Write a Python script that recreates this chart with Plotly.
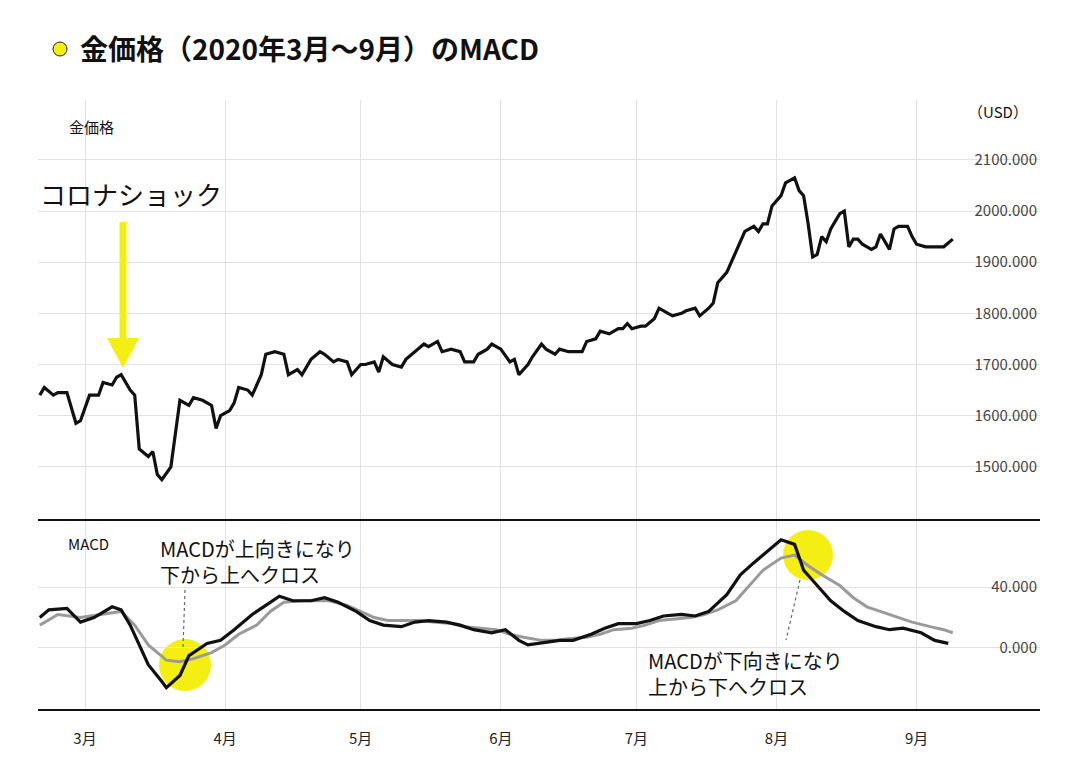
import pandas as pd
import plotly.graph_objects as go

BASE = pd.Timestamp("2020-03-01")
price_days = [-10,-9,-7,-6,-4,-2,-1,1,3,4,6,7,8,10,11,12,14,15,16,17,19,20,21,23,24,26,28,29,30,32,33,34,36,37,39,40,42,44,45,47,48,50,52,53,55,56,58,59,61,62,64,65,66,68,70,71,73,75,76,78,79,81,83,84,86,87,89,90,92,94,95,96,98,99,101,102,104,105,107,108,110,111,113,114,116,118,119,120,121,123,124,126,127,129,130,132,133,135,136,138,139,140,142,143,145,146,148,149,150,151,152,154,155,157,158,159,160,161,162,163,164,165,167,168,169,170,171,172,174,175,176,177,178,179,180,182,183,184,186,187,188,190,192]
price = [1640,1655,1640,1645,1645,1585,1590,1640,1640,1665,1660,1675,1680,1650,1640,1535,1520,1530,1485,1475,1500,1570,1630,1620,1635,1630,1620,1575,1600,1610,1625,1655,1650,1640,1680,1720,1725,1720,1680,1690,1680,1710,1725,1720,1705,1710,1705,1680,1700,1700,1705,1685,1715,1700,1695,1710,1725,1740,1735,1745,1725,1730,1725,1705,1705,1720,1730,1740,1730,1705,1710,1680,1700,1715,1740,1730,1720,1730,1725,1725,1725,1745,1750,1765,1760,1770,1770,1780,1770,1775,1775,1790,1810,1800,1795,1800,1805,1810,1795,1810,1820,1860,1880,1900,1940,1960,1970,1960,1975,1975,2010,2030,2055,2065,2040,2030,1975,1910,1915,1950,1940,1965,1995,2000,1930,1945,1945,1935,1925,1930,1955,1940,1925,1965,1970,1970,1950,1935,1930,1930,1930,1930,1945]
macd_days = [-10,-8,-4,-1,2,6,8,10,12,14,17,18,21,23,27,30,33,37,40,43,46,50,53,56,60,63,66,70,73,76,80,83,86,90,93,96,98,102,105,108,112,115,118,122,125,128,132,135,138,142,145,148,152,154,157,159,162,165,168,171,175,178,181,185,188,191]
macd = [20,25,26,17,20,27,25,15,2,-11,-22,-26,-18,-5,3,5,12,22,28,34,31,31,33,30,24,18,15,14,17,18,17,15,12,10,12,5,2,4,5,5,9,13,16,16,18,21,22,21,24,35,48,56,66,71,68,51,41,31,24,18,14,12,13,10,5,3]
signal_days = [-10,-6,-1,3,8,11,14,18,21,24,28,31,34,38,41,44,48,51,54,58,61,64,67,71,74,77,81,84,87,91,94,97,101,104,107,111,114,117,121,124,127,131,134,137,140,144,147,150,154,157,160,163,167,170,173,177,180,183,187,190,192]
signal = [15,22,20,22,24,15,2,-8,-9,-7,-3,2,9,15,24,30,31,31,31,28,24,20,18,18,18,17,16,14,13,12,9,7,5,5,6,7,9,12,13,15,18,19,20,22,25,31,41,51,59,61,54,48,41,33,27,23,20,17,14,12,10]
month_ticks = ["2020-03-01","2020-04-01","2020-05-01","2020-06-01","2020-07-01","2020-08-01","2020-09-01"]
month_labels = ["3月","4月","5月","6月","7月","8月","9月"]
price_ticks = [1500,1600,1700,1800,1900,2000,2100]

W, H, OFF = 1064, 760, 8
d = lambda ds: [BASE + pd.Timedelta(days=x) for x in ds]
FONT = "Noto Sans CJK JP"
fig = go.Figure()
fig.add_trace(go.Scatter(x=d(price_days), y=price, mode="lines", line=dict(color="#111", width=3.2), xaxis="x", yaxis="y"))
fig.add_trace(go.Scatter(x=d(signal_days), y=signal, mode="lines", line=dict(color="#9a9a9a", width=3), xaxis="x2", yaxis="y2"))
fig.add_trace(go.Scatter(x=d(macd_days), y=macd, mode="lines", line=dict(color="#111", width=3.2), xaxis="x2", yaxis="y2"))

def fx(x): return (x - OFF) / W
def fy(y): return 1 - (y - OFF) / H
def px(x, y): return fx(x), fy(y)

xr = [BASE + pd.Timedelta(days=-10.4), BASE + pd.Timedelta(days=211.3)]
xd = [fx(38), fx(1040)]
common_x = dict(range=xr, domain=xd, tickvals=month_ticks, showgrid=True, gridcolor="#e2e2e2", zeroline=False, showline=False)
fig.update_layout(
    width=W, height=H, margin=dict(l=0, r=0, t=0, b=0),
    paper_bgcolor="white", plot_bgcolor="white", showlegend=False,
    font=dict(family=FONT, color="#222"),
    xaxis=dict(**common_x, anchor="y", showticklabels=False),
    xaxis2=dict(**common_x, anchor="y2", ticktext=month_labels, ticks="", tickfont=dict(size=15), ticklabelstandoff=18),
    yaxis=dict(domain=[fy(520), fy(100)], range=[1396, 2217], side="right", anchor="x",
               tickvals=price_ticks, tickformat=".3f", ticklabelposition="inside", gridcolor="#e2e2e2",
               tickfont=dict(size=15), zeroline=False),
    yaxis2=dict(domain=[fy(710), fy(520)], range=[-40.7, 84], side="right", anchor="x2",
                tickvals=[0, 40], tickformat=".3f", ticklabelposition="inside", gridcolor="#e2e2e2",
                tickfont=dict(size=15), zeroline=False),
)

shapes = []
for yy in (520, 710):
    shapes.append(dict(type="line", xref="paper", yref="paper", x0=fx(38), x1=fx(1040), y0=fy(yy), y1=fy(yy), line=dict(color="#111", width=2)))
for cx, cy, r in ((185, 665, 26), (808, 555, 25)):
    x0, y0 = px(cx-r, cy+r); x1, y1 = px(cx+r, cy-r)
    shapes.append(dict(type="circle", xref="paper", yref="paper", x0=x0, y0=y0, x1=x1, y1=y1, fillcolor="#f5ee12", line=dict(width=0), layer="below"))
for (a, b, c, e) in ((185, 590, 183, 648), (800, 580, 786, 640)):
    x0, y0 = px(a, b); x1, y1 = px(c, e)
    shapes.append(dict(type="line", xref="paper", yref="paper", x0=x0, y0=y0, x1=x1, y1=y1, line=dict(color="#666", width=1.2, dash="dot")))
x0, y0 = px(53, 56); x1, y1 = px(67, 42)
shapes.append(dict(type="circle", xref="paper", yref="paper", x0=x0, y0=y0, x1=x1, y1=y1, fillcolor="#f5ee12", line=dict(color="#222", width=1)))
x0, y0 = px(123, 222); x1, y1 = px(123, 340)
shapes.append(dict(type="line", xref="paper", yref="paper", x0=x0, y0=y0, x1=x1, y1=y1, line=dict(color="#f5ee12", width=7)))
p1 = px(107, 338); p2 = px(139, 338); p3 = px(123, 368)
shapes.append(dict(type="path", xref="paper", yref="paper", path=f"M {p1[0]} {p1[1]} L {p2[0]} {p2[1]} L {p3[0]} {p3[1]} Z", fillcolor="#f5ee12", line=dict(width=0)))
fig.update_layout(shapes=shapes)

def ann(text, x, y, size, anchor="left", bold=False):
    ax, ay = px(x, y)
    fig.add_annotation(text=f"<b>{text}</b>" if bold else text, x=ax, y=ay, xref="paper", yref="paper",
                       xanchor=anchor, yanchor="middle", showarrow=False, font=dict(size=size, family=FONT, color="#111"), align="left")

ann("金価格（2020年3月～9月）のMACD", 78, 48, 28, bold=True)
ann("（USD）", 1030, 112, 15, anchor="right")
ann("金価格", 67, 127, 15)
ann("コロナショック", 38, 193, 26)
ann("MACD", 66, 543, 15)
ann("MACDが上向きになり", 158, 548, 20)
ann("下から上へクロス", 158, 574, 20)
ann("MACDが下向きになり", 646, 660, 20)
ann("上から下へクロス", 646, 686, 20)

fig.write_html("out.html")
